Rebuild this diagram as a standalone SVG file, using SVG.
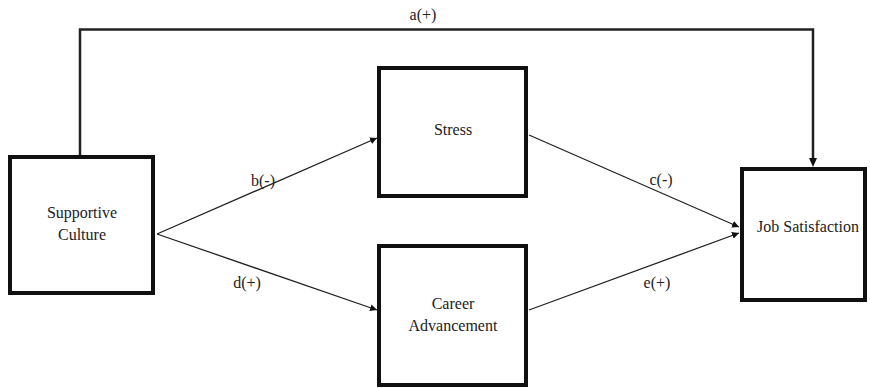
<svg xmlns="http://www.w3.org/2000/svg" width="870" height="388" viewBox="0 0 870 388">
<style>
.box{fill:#fff;stroke:#111;stroke-width:4}
.lbl{font-family:'Liberation Serif','DejaVu Serif',serif;font-size:16px;fill:#222;text-anchor:middle}
.ln{fill:none;stroke:#222;stroke-width:1.3}
.thick{fill:none;stroke:#222;stroke-width:2.5}
</style>
<defs>
<marker id="ah" viewBox="0 0 10 10" refX="10" refY="5" markerWidth="7" markerHeight="7" markerUnits="userSpaceOnUse" orient="auto">
<path d="M0,0 L10,5 L0,10 z" fill="#111"/>
</marker>
</defs>
<rect width="870" height="388" fill="#fff"/>
<g id="connectors">
<path class="thick" d="M80,155 V29.5 H813 V160"/>
<path d="M809,158 L813,167 L817,158 z" fill="#111"/>
<line class="ln" x1="157" y1="234" x2="377" y2="138" marker-end="url(#ah)"/>
<line class="ln" x1="157" y1="234" x2="377" y2="310" marker-end="url(#ah)"/>
<line class="ln" x1="529" y1="135" x2="739" y2="227" marker-end="url(#ah)"/>
<line class="ln" x1="529" y1="310" x2="739" y2="233" marker-end="url(#ah)"/>
<text class="lbl" font-family="Liberation Serif, serif" x="423" y="20">a(+)</text>
<text class="lbl" font-family="Liberation Serif, serif" x="263" y="186">b(-)</text>
<text class="lbl" font-family="Liberation Serif, serif" x="247" y="288">d(+)</text>
<text class="lbl" font-family="Liberation Serif, serif" x="661" y="185">c(-)</text>
<text class="lbl" font-family="Liberation Serif, serif" x="657" y="288">e(+)</text>
</g>
<g id="supportive">
<rect class="box" x="10" y="157" width="143" height="136"/>
<text class="lbl" x="82" y="218">Supportive</text>
<text class="lbl" x="82" y="240">Culture</text>
</g>
<g id="stress">
<rect class="box" x="379" y="68" width="147" height="128"/>
<text class="lbl" x="453" y="135">Stress</text>
</g>
<g id="career">
<rect class="box" x="379" y="246" width="147" height="139"/>
<text class="lbl" x="453" y="309">Career</text>
<text class="lbl" x="453" y="331">Advancement</text>
</g>
<g id="jobsat">
<rect class="box" x="742" y="169" width="123" height="131"/>
<text class="lbl" x="808" y="232">Job Satisfaction</text>
</g>
</svg>
